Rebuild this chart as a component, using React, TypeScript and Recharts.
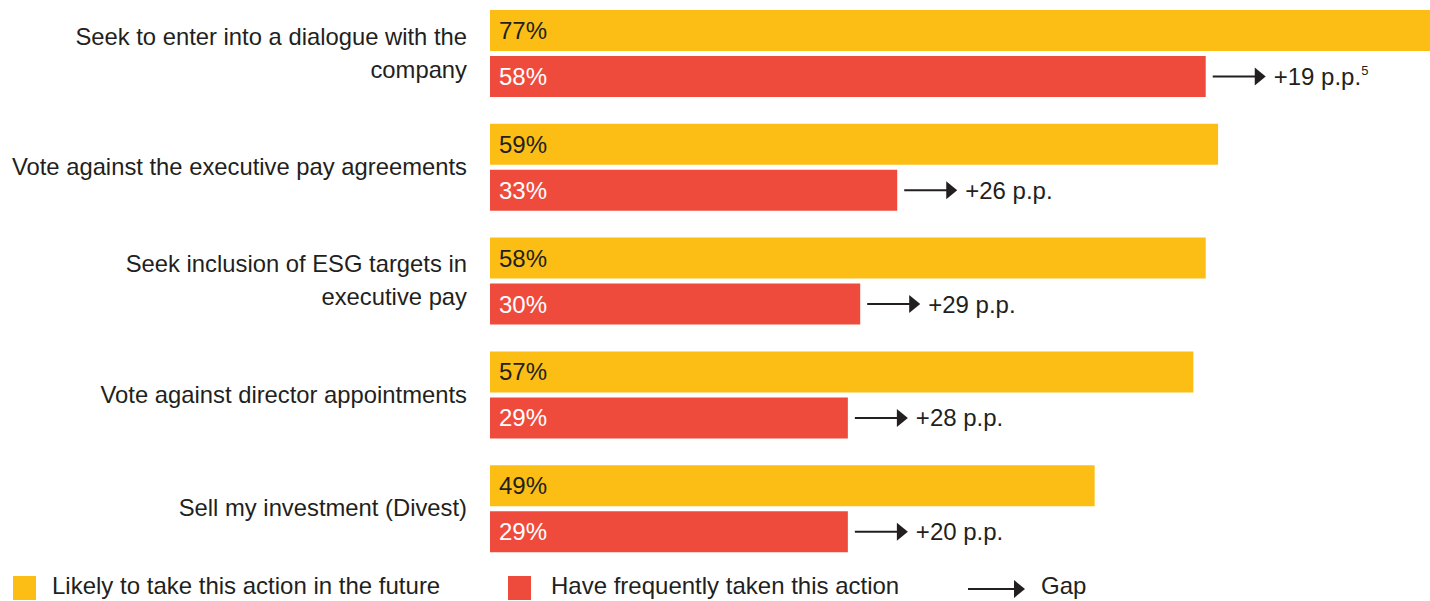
import { BarChart, Bar, XAxis, YAxis, LabelList } from 'recharts';

const categories = [
  'Seek to enter into a dialogue with the|company',
  'Vote against the executive pay agreements',
  'Seek inclusion of ESG targets in|executive pay',
  'Vote against director appointments',
  'Sell my investment (Divest)',
];
const likely = [77, 59, 58, 57, 49];
const frequently = [58, 33, 30, 29, 29];
const gaps = [19, 26, 29, 28, 20];
const footnotes = ['5', '', '', '', ''];

const YELLOW = '#FCBE14';
const RED = '#EF4B3D';
const TEXT = '#231F20';
const FONT = '"Liberation Sans", Arial, Helvetica, sans-serif';

const data = categories.map((name, i) => ({
  name,
  likely: likely[i],
  frequently: frequently[i],
  gap: gaps[i],
  note: footnotes[i],
}));

const CategoryTick = (props: any) => {
  const { y, payload } = props;
  const lines = String(payload.value).split('|');
  const lh = 33;
  const start = y - ((lines.length - 1) * lh) / 2 - 1;
  const right = 467;
  return (
    <text x={right} y={start} textAnchor="end" fill={TEXT} fontSize={23.8} fontFamily={FONT}>
      {lines.map((l, i) => (
        <tspan key={i} x={right} y={start + i * lh} dy="0.35em">
          {l}
        </tspan>
      ))}
    </text>
  );
};

const Arrow = ({ x, y, len }: { x: number; y: number; len: number }) => (
  <g>
    <line x1={x} y1={y} x2={x + len - 8} y2={y} stroke={TEXT} strokeWidth={2} />
    <path d={`M${x + len - 11},${y - 9} L${x + len},${y} L${x + len - 11},${y + 9} Z`} fill={TEXT} />
  </g>
);

const GapLabel = (props: any) => {
  const { x, y, width, height, index } = props;
  const d = data[index];
  const ax = x + width + 7;
  const cy = y + height / 2;
  return (
    <g>
      <Arrow x={ax} y={cy} len={53} />
      <text x={ax + 61} y={cy} dy="0.35em" fill={TEXT} fontSize={24} fontFamily={FONT}>
        {`+${d.gap} p.p.`}
        {d.note ? (
          <tspan fontSize={13} dy="-0.75em">
            {d.note}
          </tspan>
        ) : null}
      </text>
    </g>
  );
};

const pct = (v: any) => `${v}%`;

export default function App() {
  return (
    <div style={{ position: 'absolute', left: 0, top: 0, width: 1430, height: 601, overflow: 'hidden', background: '#fff' }}>
      <div style={{ position: 'absolute', left: 0, top: -3 }}>
        <BarChart
          width={1724}
          height={569}
          data={data}
          layout="vertical"
          margin={{ top: 0, right: 0, bottom: 0, left: 0 }}
          barSize={41}
          barGap={5}
          barCategoryGap={13}
        >
          <XAxis type="number" domain={[0, 100]} hide />
          <YAxis
            type="category"
            dataKey="name"
            width={490}
            axisLine={false}
            tickLine={false}
            tick={<CategoryTick />}
          />
          <Bar dataKey="likely" fill={YELLOW} isAnimationActive={false}>
            <LabelList
              dataKey="likely"
              position="insideLeft"
              offset={9}
              formatter={pct}
              fill={TEXT}
              fontSize={24}
              fontFamily={FONT}
            />
          </Bar>
          <Bar dataKey="frequently" fill={RED} isAnimationActive={false}>
            <LabelList
              dataKey="frequently"
              position="insideLeft"
              offset={9}
              formatter={pct}
              fill="#ffffff"
              fontSize={24}
              fontFamily={FONT}
            />
            <LabelList dataKey="gap" content={<GapLabel />} />
          </Bar>
        </BarChart>
      </div>
      <div
        style={{
          position: 'absolute',
          left: 0,
          top: 572,
          width: 1430,
          height: 28,
          fontFamily: FONT,
          fontSize: 24,
          color: TEXT,
        }}
      >
        <div style={{ position: 'absolute', left: 13, top: 4, width: 23, height: 24, background: YELLOW }} />
        <div style={{ position: 'absolute', left: 52, top: 0, lineHeight: '28px', whiteSpace: 'nowrap' }}>
          Likely to take this action in the future
        </div>
        <div style={{ position: 'absolute', left: 508, top: 4, width: 23, height: 24, background: RED }} />
        <div style={{ position: 'absolute', left: 551, top: 0, lineHeight: '28px', whiteSpace: 'nowrap' }}>
          Have frequently taken this action
        </div>
        <svg style={{ position: 'absolute', left: 966, top: 0 }} width={62} height={28}>
          <Arrow x={2} y={17} len={57} />
        </svg>
        <div style={{ position: 'absolute', left: 1041, top: 0, lineHeight: '28px', whiteSpace: 'nowrap' }}>
          Gap
        </div>
      </div>
    </div>
  );
}
